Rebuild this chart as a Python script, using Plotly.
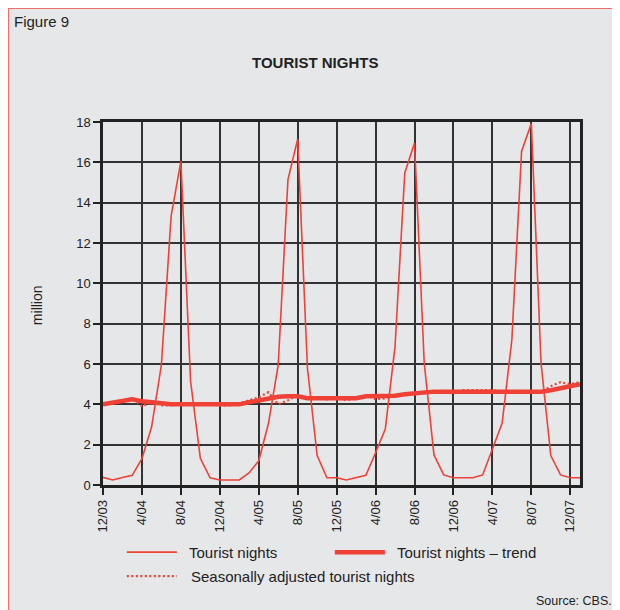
import plotly.graph_objects as go

RED = "#ef4136"
BG = "#e6e7e9"
GRID = "#333333"
TXT = "#222"

# monthly index, 0 = Dec 2003 ... 49 = Jan 2008
months = list(range(50))
tick_idx = [0, 4, 8, 12, 16, 20, 24, 28, 32, 36, 40, 44, 48]
tick_labels = ["12/03", "4/04", "8/04", "12/04", "4/05", "8/05", "12/05",
               "4/06", "8/06", "12/06", "4/07", "8/07", "12/07"]

# million nights
nights = [0.38, 0.25, 0.37, 0.48, 1.3, 2.9, 5.96, 13.35, 16.05, 5.13,
          1.32, 0.36, 0.25, 0.25, 0.25, 0.6, 1.2, 3.06, 5.96, 15.14,
          17.16, 5.8, 1.46, 0.36, 0.36, 0.25, 0.37, 0.48, 1.6, 2.78,
          6.87, 15.47, 16.96, 6.04, 1.49, 0.5, 0.36, 0.36, 0.36, 0.5,
          1.82, 3.06, 7.2, 16.55, 17.92, 6.04, 1.46, 0.5, 0.36, 0.36]
trend = [4.0, 4.07, 4.15, 4.25, 4.15, 4.1, 4.0, 4.0, 4.0, 4.0,
         4.0, 4.0, 4.0, 4.0, 4.0, 4.1, 4.2, 4.3, 4.38, 4.4,
         4.4, 4.3, 4.3, 4.27, 4.28, 4.28, 4.3, 4.4, 4.4, 4.4,
         4.43, 4.5, 4.55, 4.62, 4.63, 4.63, 4.63, 4.63, 4.63, 4.63,
         4.63, 4.63, 4.63, 4.63, 4.63, 4.63, 4.7, 4.8, 4.9, 5.0]
adjusted = [4.0, 4.1, 4.2, 4.3, 3.9, 4.1, 3.95, 3.95, 4.0, 4.0,
            4.0, 4.0, 3.95, 3.95, 4.05, 4.2, 4.35, 4.6, 4.0, 4.2,
            4.45, 4.3, 4.3, 4.25, 4.3, 4.2, 4.3, 4.45, 4.25, 4.3,
            4.4, 4.45, 4.5, 4.6, 4.65, 4.6, 4.55, 4.7, 4.7, 4.7,
            4.7, 4.65, 4.6, 4.65, 4.6, 4.6, 4.9, 5.1, 5.0, 5.1]

series = [
    ("Tourist nights", nights, {"color": RED, "width": 1.6}),
    ("Tourist nights \u2013 trend", trend, {"color": RED, "width": 4.5}),
    ("Seasonally adjusted tourist nights", adjusted,
     {"color": RED, "width": 2.2, "dash": "2px,2.5px"}),
]

fig = go.Figure()
for name, vals, line in series:
    fig.add_trace(go.Scatter(x=months, y=vals, mode="lines", name=name, line=line,
                             showlegend=False))

# legend drawn by hand so the swatches are as long as in the original
legend_pos = [(0.050, 0.155, 0.176, -0.185), (0.486, 0.591, 0.612, -0.185),
              (0.050, 0.155, 0.180, -0.251)]
for (name, _, line), (x0, x1, tx, y) in zip(series, legend_pos):
    fig.add_shape(type="line", xref="paper", yref="paper", x0=x0, x1=x1, y0=y, y1=y,
                  line=line)
    fig.add_annotation(text=name, xref="paper", yref="paper", x=tx, y=y, xanchor="left",
                       yanchor="middle", showarrow=False, font={"size": 15, "color": TXT})

# thin red frame round the grey panel
fig.add_shape(type="rect", xref="paper", yref="paper", x0=-0.198, x1=1.3, y0=-0.5, y1=1.313,
              line={"color": "#f07070", "width": 1.2}, layer="below")

fig.add_annotation(text="Figure 9", xref="paper", yref="paper", x=-0.191, y=1.276,
                   xanchor="left", yanchor="middle", showarrow=False,
                   font={"size": 15, "color": TXT})
fig.add_annotation(text="<b>TOURIST NIGHTS</b>", xref="paper", yref="paper", x=0.444, y=1.163,
                   xanchor="center", yanchor="middle", showarrow=False,
                   font={"size": 15, "color": TXT})
fig.add_annotation(text="million", xref="paper", yref="paper", x=-0.138, y=0.496,
                   textangle=-90, xanchor="center", yanchor="middle", showarrow=False,
                   font={"size": 14, "color": TXT})
fig.add_annotation(text="Source: CBS.", xref="paper", yref="paper", x=1.071, y=-0.32,
                   xanchor="right", yanchor="middle", showarrow=False,
                   font={"size": 12.5, "color": TXT})

axis_style = dict(showgrid=True, gridcolor=GRID, gridwidth=1.5,
                  ticks="outside", ticklen=7, tickwidth=1.5, tickcolor=TXT,
                  showline=True, linecolor=TXT, linewidth=2.5, mirror=True,
                  zeroline=False, tickfont={"size": 13, "color": TXT})
fig.update_xaxes(range=[0, 49], tickvals=tick_idx, ticktext=tick_labels, tickangle=-90,
                 **axis_style)
fig.update_yaxes(range=[0, 18], dtick=2, **axis_style)

# page body adds an 8px margin; the figure runs past the window edge on right/bottom
fig.update_layout(
    width=620, height=610,
    margin={"l": 95, "r": 48, "t": 114, "b": 133},
    paper_bgcolor=BG, plot_bgcolor=BG,
    font={"family": "Liberation Sans, Arial, sans-serif", "color": TXT},
    showlegend=False,
)

fig.write_html("out.html")
